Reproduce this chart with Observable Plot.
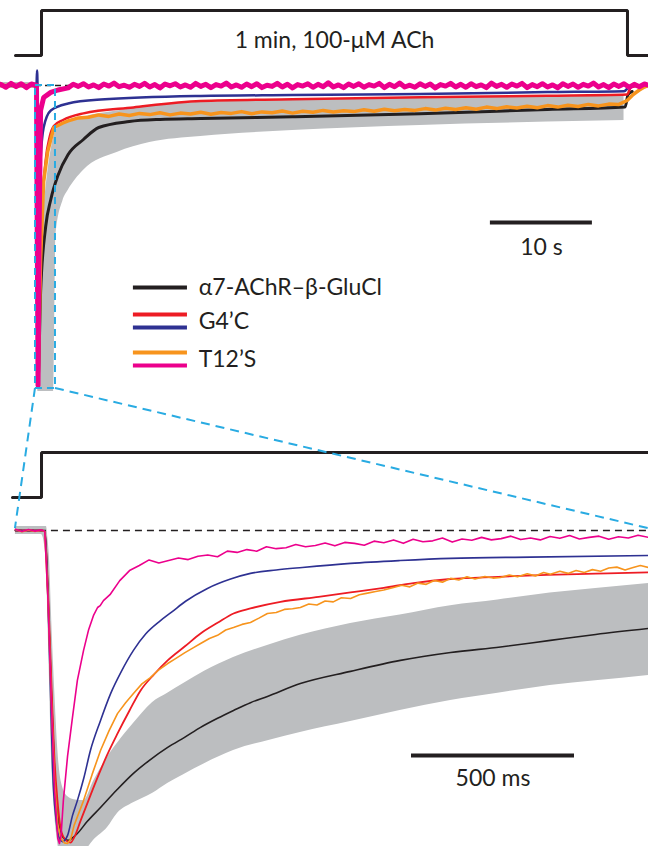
<!DOCTYPE html>
<html><head><meta charset="utf-8">
<script src="https://cdn.jsdelivr.net/npm/d3@7"></script>
<script src="https://cdn.jsdelivr.net/npm/@observablehq/plot@0.6"></script>
<style>
html,body{margin:0;padding:0;background:#fff;}
#fig{position:relative;width:648px;height:846px;overflow:hidden;font-family:Lato,sans-serif;}
#fig > svg{position:absolute;left:0;}
</style></head><body><div id="fig"></div>
<script>
// ---------- DATA ----------
// Top panel: 1-min application, time in s, current normalised to peak
const titleText = "1 min, 100-\u03bcM ACh";
const legendLabels = ["\u03b17-AChR\u2013\u03b2-GluCl", "G4\u2019C", "T12\u2019S"];
const topScaleLabel = "10 s";
const botScaleLabel = "500 ms";

const topStimT = [-2.16, 0.39, 0.39, 57.84, 57.84, 59.9];
const topStimV = [0, 0, 1, 1, 0, 0];

const topBandT  = [-3.6, -0.1, 0.05, 0.3, 0.8, 1.3, 1.6, 1.8, 2.5, 3, 4.5, 7.8, 11, 16, 25, 37.5, 50, 57.5];
const topBandHi = [0.01, 0.01, -0.9, -0.55, -0.35, -0.22, -0.17, -0.15, -0.128, -0.12, -0.105, -0.085, -0.07, -0.056, -0.05, -0.042, -0.037, -0.033];
const topBandLo = [-0.01, -0.01, -1.02, -1.02, -1.02, -1.02, -1.02, -0.5, -0.383, -0.35, -0.283, -0.223, -0.19, -0.17, -0.15, -0.133, -0.122, -0.117];

const topBlackT = [-3.6, -0.05, 0.05, 0.3, 0.8, 1.3, 2, 3, 4.5, 6, 9, 12, 16, 25, 37.5, 50, 57.6, 57.9, 58.3];
const topBlackV = [0, 0, -0.98, -0.69, -0.47, -0.38, -0.30, -0.23, -0.18, -0.14, -0.12, -0.113, -0.11, -0.104, -0.094, -0.08, -0.072, -0.03, -0.02];

const topRedT = [-3.6, -0.05, 0.05, 0.2, 0.4, 0.8, 1.2, 1.6, 2.5, 4.5, 9.4, 16, 25, 37.5, 50, 57.8, 58.2, 59.5];
const topRedV = [0, 0, -1.0, -0.7, -0.45, -0.25, -0.17, -0.135, -0.115, -0.093, -0.073, -0.052, -0.046, -0.039, -0.034, -0.03, -0.005, 0];

const topBlueT = [-3.6, -0.1, -0.05, 0, 0.05, 0.15, 0.3, 0.6, 1.3, 3, 6.2, 16, 25, 37.5, 50, 57.5, 58, 59];
const topBlueV = [0, 0, 0.05, 0, -1.0, -0.6, -0.25, -0.14, -0.083, -0.06, -0.047, -0.035, -0.032, -0.028, -0.022, -0.019, -0.005, 0];

// noisy traces as [time, value] pairs
const topOrange = [[-3.6,0],[-0.05,0],[0.05,-1.0],[0.3,-0.58],[0.6,-0.32],[1,-0.22],[1.6,-0.14],[2.5,-0.125],
  [3,-0.118],[4,-0.108],[5,-0.106],[6,-0.098],[7,-0.103],[8,-0.095],[9,-0.1],[10,-0.093],[11,-0.097],[12,-0.091],
  [13,-0.098],[14,-0.092],[15,-0.095],[16,-0.089],[17,-0.096],[18,-0.09],[19,-0.093],[20,-0.087],[21,-0.094],
  [22,-0.088],[23,-0.091],[24,-0.085],[25,-0.092],[26,-0.086],[27,-0.089],[28,-0.083],[29,-0.088],[30,-0.084],
  [31,-0.087],[32,-0.081],[33,-0.086],[34,-0.079],[35,-0.084],[36,-0.08],[37,-0.083],[38,-0.077],[39,-0.082],
  [40,-0.076],[41,-0.08],[42,-0.074],[43,-0.079],[44,-0.072],[45,-0.077],[46,-0.071],[47,-0.075],[48,-0.069],
  [49,-0.074],[50,-0.067],[51,-0.072],[52,-0.066],[53,-0.07],[54,-0.063],[55,-0.068],[56,-0.062],[57,-0.063],
  [57.8,-0.05],[58.4,-0.03],[59,-0.015],[59.5,-0.005],[59.9,0]];

const topMagenta = [[-3.6,0.004],[-3.1,-0.006],[-2.6,0.007],[-2.1,-0.004],[-1.6,0.006],[-1.1,-0.007],[-0.6,0.005],
  [-0.1,0],[0.05,-1.0],[0.15,-0.5],[0.3,-0.083],[0.6,-0.04],[1.3,-0.023],[2,-0.015],[3,-0.008],
  [3.5,0.004],[4,-0.003],[4.5,0.006],[5,-0.005],[5.5,0.002],[6,-0.007],[6.5,0.005],[7,-0.002],[7.5,0.008],[8,-0.004],
  [8.5,0.001],[9,-0.006],[9.5,0.004],[10,-0.003],[10.5,0.007],[11,-0.005],[11.5,0.003],[12,-0.008],[12.5,0.005],
  [13,-0.001],[13.5,0.006],[14,-0.005],[14.5,0.002],[15,-0.006],[15.5,0.007],[16,-0.003],[16.5,0.004],[17,-0.007],
  [17.5,0.003],[18,-0.002],[18.5,0.008],[19,-0.005],[19.5,0.002],[20,-0.006],[20.5,0.005],[21,-0.004],[21.5,0.006],
  [22,-0.007],[22.5,0.001],[23,-0.003],[23.5,0.007],[24,-0.005],[24.5,0.004],[25,-0.008],[25.5,0.003],[26,-0.002],
  [26.5,0.006],[27,-0.006],[27.5,0.004],[28,-0.004],[28.5,0.009],[29,-0.005],[29.5,0.002],[30,-0.007],[30.5,0.005],
  [31,-0.003],[31.5,0.006],[32,-0.006],[32.5,0.003],[33,-0.002],[33.5,0.007],[34,-0.007],[34.5,0.004],[35,-0.004],
  [35.5,0.008],[36,-0.005],[36.5,0.001],[37,-0.006],[37.5,0.006],[38,-0.003],[38.5,0.005],[39,-0.008],[39.5,0.003],
  [40,-0.002],[40.5,0.007],[41,-0.005],[41.5,0.004],[42,-0.006],[42.5,0.006],[43,-0.004],[43.5,0.002],[44,-0.007],
  [44.5,0.008],[45,-0.003],[45.5,0.004],[46,-0.006],[46.5,0.005],[47,-0.002],[47.5,0.007],[48,-0.007],[48.5,0.003],
  [49,-0.004],[49.5,0.006],[50,-0.005],[50.5,0.002],[51,-0.008],[51.5,0.006],[52,-0.003],[52.5,0.005],[53,-0.006],
  [53.5,0.004],[54,-0.002],[54.5,0.008],[55,-0.005],[55.5,0.003],[56,-0.007],[56.5,0.005],[57,-0.003],[57.5,0.006],
  [58,-0.006],[58.5,0.004],[59,-0.004],[59.5,0.005],[59.9,0.001]];

// Bottom panel: first ~2 s, time in ms
const botStimT = [-89, 0, 0, 1862];
const botStimV = [0, 0, 1, 1];

const botBandT  = [-80, 0, 15, 20, 25, 30, 40, 50, 60, 80, 100, 129, 160, 202, 233, 282, 340, 387, 436, 500, 589, 700, 794, 948, 1100, 1255, 1400, 1560, 1700, 1862];
const botBandHi = [0.013, 0.013, 0.013, -0.03, -0.10, -0.25, -0.50, -0.70, -0.80, -0.85, -0.86, -0.863, -0.80, -0.725, -0.68, -0.617, -0.55, -0.52, -0.489, -0.45, -0.406, -0.365, -0.335, -0.297, -0.27, -0.24, -0.222, -0.20, -0.185, -0.169];
const botBandLo = [-0.013, -0.013, -0.10, -0.30, -0.50, -0.70, -0.90, -1.0, -1.05, -1.05, -1.05, -1.03, -0.99, -0.95, -0.904, -0.87, -0.84, -0.808, -0.78, -0.745, -0.703, -0.67, -0.645, -0.61, -0.575, -0.543, -0.52, -0.495, -0.48, -0.463];

const botBlackT = [-80, 0, 10, 20, 30, 40, 50, 60, 70, 83, 95, 110, 140, 181, 230, 282, 330, 387, 440, 488, 540, 589, 641, 693, 794, 948, 1101, 1255, 1408, 1561, 1700, 1862];
const botBlackV = [0, 0, -0.003, -0.208, -0.511, -0.767, -0.911, -0.965, -0.985, -0.99, -0.982, -0.968, -0.93, -0.885, -0.83, -0.776, -0.735, -0.693, -0.66, -0.629, -0.60, -0.575, -0.55, -0.53, -0.489, -0.45, -0.415, -0.39, -0.372, -0.351, -0.332, -0.313];

const botRedT = [-80, 0, 10, 20, 30, 40, 49, 60, 75, 89, 100, 120, 145, 172, 200, 233, 270, 304, 345, 387, 440, 488, 540, 589, 641, 733, 850, 948, 1050, 1141, 1255, 1400, 1550, 1700, 1862];
const botRedV = [0, 0, -0.003, -0.192, -0.479, -0.735, -0.863, -0.958, -0.99, -0.997, -0.981, -0.927, -0.86, -0.789, -0.72, -0.649, -0.575, -0.511, -0.46, -0.415, -0.37, -0.329, -0.295, -0.265, -0.249, -0.228, -0.212, -0.198, -0.183, -0.168, -0.155, -0.148, -0.142, -0.138, -0.134];

const botBlueT = [-80, 0, 10, 20, 30, 34, 45, 55, 64, 80, 95, 110, 130, 150, 180, 212, 245, 282, 320, 365, 400, 442, 509, 580, 641, 720, 800, 948, 1100, 1255, 1500, 1862];
const botBlueV = [0, 0, -0.003, -0.224, -0.607, -0.757, -0.927, -0.984, -0.994, -0.974, -0.911, -0.863, -0.79, -0.703, -0.61, -0.521, -0.45, -0.383, -0.33, -0.288, -0.26, -0.226, -0.185, -0.155, -0.137, -0.126, -0.118, -0.105, -0.096, -0.089, -0.085, -0.08];

const botOrange = [[-80,0.003],[-60,-0.004],[-40,0.002],[-20,-0.003],[0,0.001],[10,-0.003],[20,-0.224],[30,-0.543],
  [40,-0.8],[50,-0.942],[60,-0.984],[70,-0.998],[80,-1.0],[90,-0.984],[100,-0.942],[129,-0.863],[155,-0.78],[181,-0.703],
  [207,-0.64],[233,-0.585],[258,-0.55],[282,-0.521],[308,-0.49],[334,-0.47],[360,-0.445],[387,-0.425],[410,-0.41],
  [440,-0.39],[465,-0.375],[488,-0.361],[515,-0.345],[540,-0.335],[565,-0.318],[589,-0.31],[615,-0.30],[641,-0.294],
  [667,-0.28],[693,-0.265],[720,-0.262],[745,-0.252],[770,-0.25],[794,-0.246],[820,-0.235],[845,-0.238],[870,-0.225],
  [895,-0.228],[920,-0.215],[948,-0.217],[975,-0.205],[1000,-0.2],[1025,-0.195],[1050,-0.19],[1080,-0.182],[1105,-0.175],
  [1130,-0.18],[1155,-0.168],[1180,-0.172],[1205,-0.16],[1230,-0.165],[1255,-0.153],[1280,-0.158],[1305,-0.148],
  [1330,-0.155],[1360,-0.147],[1385,-0.152],[1408,-0.15],[1435,-0.142],[1460,-0.148],[1490,-0.138],[1515,-0.145],
  [1540,-0.134],[1561,-0.14],[1590,-0.13],[1615,-0.137],[1640,-0.128],[1665,-0.134],[1690,-0.125],[1715,-0.13],
  [1740,-0.12],[1765,-0.117],[1790,-0.126],[1815,-0.118],[1837,-0.112],[1862,-0.118]];

const botMagenta = [[-80,0.004],[-60,-0.003],[-40,0.003],[-20,-0.002],[0,0.002],[10,-0.003],[20,-0.224],[30,-0.543],
  [40,-0.831],[50,-0.984],[55,-1.0],[60,-0.974],[67,-0.863],[80,-0.72],[95,-0.597],[110,-0.479],[129,-0.383],[144,-0.319],
  [160,-0.27],[172,-0.246],[180,-0.24],[190,-0.224],[210,-0.205],[240,-0.16],[270,-0.128],[300,-0.112],
  [330,-0.094],[360,-0.104],[390,-0.096],[420,-0.088],[450,-0.093],[480,-0.082],[510,-0.078],[540,-0.084],[570,-0.066],
  [600,-0.07],[630,-0.061],[660,-0.066],[690,-0.052],[720,-0.058],[750,-0.055],[780,-0.045],[810,-0.052],[840,-0.048],
  [870,-0.04],[900,-0.049],[930,-0.038],[960,-0.041],[990,-0.047],[1020,-0.034],[1050,-0.039],[1080,-0.03],[1110,-0.041],
  [1140,-0.028],[1170,-0.036],[1200,-0.033],[1230,-0.024],[1260,-0.037],[1290,-0.027],[1320,-0.031],[1350,-0.022],
  [1380,-0.03],[1410,-0.026],[1440,-0.018],[1470,-0.029],[1500,-0.024],[1530,-0.03],[1560,-0.019],[1590,-0.025],
  [1620,-0.016],[1650,-0.027],[1680,-0.022],[1710,-0.018],[1740,-0.028],[1770,-0.02],[1800,-0.024],[1830,-0.015],[1862,-0.022]];

// ---------- STYLE ----------
const DARK = "#231f20", RED = "#ed1c24", BLUE = "#2e3192", ORANGE = "#f7941d",
      MAGENTA = "#ec008c", GRAY = "#bcbec0", CYAN = "#29abe2";
const FONT = "Lato, 'Open Sans', sans-serif";
const FS = 23;
const W = 648;
const topX = [-3.63, 59.9];      // s
const botX = [-125.8, 1862];     // ms
const SMOOTH = "monotone-x";

const rows = (T, V) => T.map((t, i) => ({t, v: V[i]}));
const pairs = P => P.map(([t, v]) => ({t, v}));
const band = (T, H, L) => T.map((t, i) => ({t, hi: H[i], lo: L[i]}));
const baseStyle = {background: "transparent", overflow: "visible", fontFamily: FONT};

// top stimulus bar
const topStim = Plot.plot({
  width: W, height: 70, marginTop: 10, marginBottom: 15, marginLeft: 0, marginRight: 0,
  x: {domain: topX, axis: null}, y: {domain: [0, 1], axis: null}, style: baseStyle,
  marks: [
    Plot.line(rows(topStimT, topStimV), {x: "t", y: "v", stroke: DARK, strokeWidth: 3, strokeLinejoin: "miter"}),
    Plot.text([{t: (topStimT[1] + topStimT[3]) / 2, v: 0.34, s: titleText}], {x: "t", y: "v", text: "s", fontSize: FS, fill: DARK, textAnchor: "middle"})
  ]
});

const legendRows = [
  {x1: 9.4, x2: 14.7, v: -0.673, c: DARK},
  {x1: 9.4, x2: 14.7, v: -0.763, c: RED},
  {x1: 9.4, x2: 14.7, v: -0.807, c: BLUE},
  {x1: 9.4, x2: 14.7, v: -0.89, c: ORANGE},
  {x1: 9.4, x2: 14.7, v: -0.933, c: MAGENTA}
];
const legendText = legendLabels.map((s, i) => ({t: 15.8, v: [-0.675, -0.787, -0.913][i], s}));

const topTr = Plot.plot({
  width: W, height: 330, margin: 0,
  x: {domain: topX, axis: null}, y: {domain: [-1.05, 0.05], axis: null}, style: baseStyle,
  marks: [
    Plot.areaY(band(topBandT, topBandHi, topBandLo), {x: "t", y1: "lo", y2: "hi", fill: GRAY, curve: SMOOTH}),
    Plot.ruleY([{a: -0.2, b: 59.9, v: 0}], {y: "v", x1: "a", x2: "b", stroke: DARK, strokeWidth: 1.5, strokeDasharray: "6,4"}),
    Plot.line(rows(topBlackT, topBlackV), {x: "t", y: "v", stroke: DARK, strokeWidth: 3, curve: SMOOTH}),
    Plot.line(rows(topRedT, topRedV), {x: "t", y: "v", stroke: RED, strokeWidth: 2.5, curve: SMOOTH}),
    Plot.line(pairs(topOrange), {x: "t", y: "v", stroke: ORANGE, strokeWidth: 3.5}),
    Plot.line(rows(topBlueT, topBlueV), {x: "t", y: "v", stroke: BLUE, strokeWidth: 2.5, curve: SMOOTH}),
    Plot.line(pairs(topMagenta), {x: "t", y: "v", stroke: MAGENTA, strokeWidth: 5}),
    Plot.rect([{a: -0.2, b: 1.76, lo: -1.01, hi: 0}], {x1: "a", x2: "b", y1: "lo", y2: "hi", fill: "none", stroke: CYAN, strokeWidth: 2, strokeDasharray: "7,5"}),
    Plot.ruleY(legendRows, {y: "v", x1: "x1", x2: "x2", stroke: "c", strokeWidth: 4}),
    Plot.text(legendText, {x: "t", y: "v", text: "s", textAnchor: "start", fontSize: FS, fill: DARK}),
    Plot.ruleY([{a: 44.4, b: 54.4, v: -0.457}], {y: "v", x1: "a", x2: "b", stroke: DARK, strokeWidth: 4}),
    Plot.text([{t: 49.4, v: -0.54, s: topScaleLabel}], {x: "t", y: "v", text: "s", fontSize: FS, fill: DARK})
  ]
});

const botStim = Plot.plot({
  width: W, height: 65, marginTop: 12, marginBottom: 8, marginLeft: 0, marginRight: 0,
  x: {domain: botX, axis: null}, y: {domain: [0, 1], axis: null}, style: baseStyle,
  marks: [
    Plot.line(rows(botStimT, botStimV), {x: "t", y: "v", stroke: DARK, strokeWidth: 3, strokeLinejoin: "miter"})
  ]
});

const botTr = Plot.plot({
  width: W, height: 341, margin: 0,
  x: {domain: botX, axis: null}, y: {domain: [-1.0096, 0.0799], axis: null}, style: baseStyle,
  marks: [
    Plot.areaY(band(botBandT, botBandHi, botBandLo), {x: "t", y1: "lo", y2: "hi", fill: GRAY, curve: SMOOTH}),
    Plot.ruleY([{a: -80, b: 1862, v: 0}], {y: "v", x1: "a", x2: "b", stroke: DARK, strokeWidth: 1.3, strokeDasharray: "7,5"}),
    Plot.line(rows(botBlackT, botBlackV), {x: "t", y: "v", stroke: DARK, strokeWidth: 1.6, curve: SMOOTH}),
    Plot.line(rows(botRedT, botRedV), {x: "t", y: "v", stroke: RED, strokeWidth: 1.8, curve: SMOOTH}),
    Plot.line(rows(botBlueT, botBlueV), {x: "t", y: "v", stroke: BLUE, strokeWidth: 1.6, curve: SMOOTH}),
    Plot.line(pairs(botOrange), {x: "t", y: "v", stroke: ORANGE, strokeWidth: 1.6}),
    Plot.line(pairs(botMagenta), {x: "t", y: "v", stroke: MAGENTA, strokeWidth: 1.6}),
    Plot.ruleY([{a: 1135, b: 1635, v: -0.719}], {y: "v", x1: "a", x2: "b", stroke: DARK, strokeWidth: 4}),
    Plot.text([{t: 1385, v: -0.792, s: botScaleLabel}], {x: "t", y: "v", text: "s", fontSize: FS, fill: DARK})
  ]
});

const fig = document.getElementById("fig");
const placed = [[topStim, 0], [topTr, 70], [botStim, 440], [botTr, 505]];
for (const [svg, top] of placed) { svg.style.top = top + "px"; fig.appendChild(svg); }

// cyan zoom connectors, positioned through both plots' scales
const lin = (p, k) => { const s = p.scale(k); return d3.scaleLinear(s.domain, s.range); };
const tX = lin(topTr, "x"), tY = lin(topTr, "y"), bX = lin(botTr, "x"), bY = lin(botTr, "y");
const links = [
  {x1: tX(-0.2), y1: 70 + tY(-1.01), x2: bX(-80), y2: 505 + bY(0.006)},
  {x1: tX(1.76), y1: 70 + tY(-1.01), x2: bX(1862), y2: 505 + bY(0.006)}
];
const ov = d3.create("svg").attr("width", W).attr("height", 846).style("top", "0px").style("pointer-events", "none");
ov.selectAll("line").data(links).join("line")
  .attr("x1", d => d.x1).attr("y1", d => d.y1).attr("x2", d => d.x2).attr("y2", d => d.y2)
  .attr("stroke", CYAN).attr("stroke-width", 2).attr("stroke-dasharray", "9,6");
fig.appendChild(ov.node());
</script></body></html>
